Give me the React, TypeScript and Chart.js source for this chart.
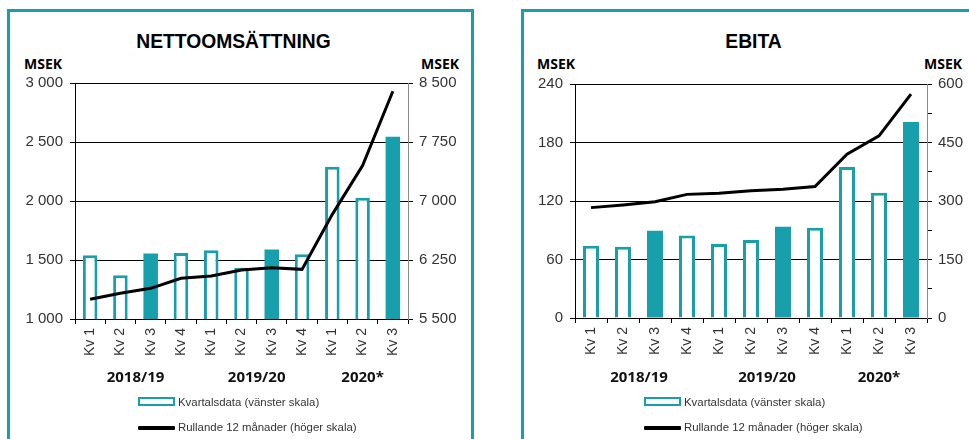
import React, { useEffect, useRef } from 'react';
import { Chart, registerables } from 'chart.js';

Chart.register(...registerables);

// ---- Data ----
const categories = ['Kv 1', 'Kv 2', 'Kv 3', 'Kv 4', 'Kv 1', 'Kv 2', 'Kv 3', 'Kv 4', 'Kv 1', 'Kv 2', 'Kv 3'];
const groups = ['2018/19', '2019/20', '2020*'];
const groupSizes = [4, 4, 3];

const salesQuarter = [1540, 1370, 1555, 1560, 1582, 1435, 1590, 1548, 2290, 2028, 2544];
const salesRolling = [5750, 5827, 5890, 6017, 6047, 6123, 6152, 6131, 6830, 7450, 8395];

const ebitaQuarter = [74, 73, 89.5, 84.5, 76, 80, 93.5, 92.5, 155, 128.5, 201];
const ebitaRolling = [283, 290, 298, 317, 320, 326, 330, 337, 420, 467, 574];

const salesLeftTicks = [1000, 1500, 2000, 2500, 3000];
const salesRightTicks = [5500, 6250, 7000, 7750, 8500];
const ebitaLeftTicks = [0, 60, 120, 180, 240];
const ebitaRightTicks = [0, 150, 300, 450, 600];

const legendBarLabel = 'Kvartalsdata (vänster skala)';
const legendLineLabel = 'Rullande 12 månader (höger skala)';

// ---- Styles ----
const TEAL = '#17A0AC';
const TEXT = '#333333';
const SANS = '"Liberation Sans", Arial, sans-serif';
const BOLD2 = '"Open Sans", "Liberation Sans", Arial, sans-serif';

const fmt = (v: number) => String(v).replace(/\B(?=(\d{3})+(?!\d))/g, ' ');
const isFilled = (i: number) => categories[i] === 'Kv 3';

const groupLabelPlugin = {
  id: 'groupLabels',
  afterDraw(chart: any, _args: any, opts: any) {
    const { ctx } = chart;
    const x = chart.scales.x;
    let start = 0;
    ctx.save();
    ctx.font = 'bold 15px ' + BOLD2;
    ctx.fillStyle = '#111';
    ctx.textAlign = 'center';
    ctx.textBaseline = 'alphabetic';
    (opts.groups as string[]).forEach((g, i) => {
      const n = opts.sizes[i];
      const a = x.getPixelForValue(start);
      const b = x.getPixelForValue(start + n - 1);
      ctx.fillText(g, (a + b) / 2, opts.y);
      start += n;
    });
    ctx.restore();
  },
};

type Cfg = {
  bars: number[];
  line: number[];
  leftTicks: number[];
  rightTicks: number[];
  minorRight: boolean;
  top: number;
  leftW: number;
  rightW: number;
  xH: number;
  barPct: number;
};

function makeConfig(c: Cfg): any {
  const lStep = c.leftTicks[1] - c.leftTicks[0];
  const rStep = c.rightTicks[1] - c.rightTicks[0];
  return {
    data: {
      labels: categories,
      datasets: [
        {
          type: 'line',
          label: legendLineLabel,
          data: c.line,
          yAxisID: 'y2',
          borderColor: '#000',
          borderWidth: 3,
          pointRadius: 0,
          tension: 0,
          fill: false,
          order: 0,
        },
        {
          type: 'bar',
          label: legendBarLabel,
          data: c.bars,
          yAxisID: 'y',
          backgroundColor: (ctx: any) => (isFilled(ctx.dataIndex) ? TEAL : '#ffffff'),
          borderColor: TEAL,
          borderWidth: (ctx: any) => (isFilled(ctx.dataIndex) ? 0 : 3),
          borderSkipped: 'bottom',
          categoryPercentage: 1,
          barPercentage: c.barPct,
          order: 1,
        },
      ],
    },
    options: {
      responsive: false,
      animation: false,
      devicePixelRatio: 1,
      layout: { padding: { top: c.top, left: 0, right: 0, bottom: 0 } },
      plugins: {
        legend: { display: false },
        tooltip: { enabled: false },
        title: { display: false },
        groupLabels: { groups, sizes: groupSizes, y: 381.5 },
      },
      scales: {
        x: {
          type: 'category',
          offset: true,
          grid: { display: true, drawOnChartArea: false, drawTicks: true, tickLength: 5, color: '#000', offset: true },
          border: { display: true, color: '#000', width: 1 },
          ticks: {
            autoSkip: false,
            minRotation: 90,
            maxRotation: 90,
            padding: 4,
            color: TEXT,
            font: { family: SANS, size: 14 },
          },
          afterFit: (s: any) => {
            s.height = c.xH;
          },
        },
        y: {
          position: 'left',
          min: c.leftTicks[0],
          max: c.leftTicks[c.leftTicks.length - 1],
          ticks: {
            stepSize: lStep,
            padding: 7,
            color: TEXT,
            font: { family: SANS, size: 15 },
            callback: (v: any) => fmt(Number(v)),
          },
          grid: { color: '#000', tickLength: 5, drawTicks: true, lineWidth: 1 },
          border: { display: true, color: '#000', width: 1 },
          afterFit: (s: any) => {
            s.width = c.leftW;
          },
        },
        y2: {
          position: 'right',
          min: c.rightTicks[0],
          max: c.rightTicks[c.rightTicks.length - 1],
          ticks: {
            stepSize: c.minorRight ? rStep / 2 : rStep,
            padding: 6,
            color: TEXT,
            font: { family: SANS, size: 15 },
            callback: (v: any) => (c.rightTicks.includes(Number(v)) ? fmt(Number(v)) : ''),
          },
          grid: { drawOnChartArea: false, drawTicks: true, tickLength: 5, color: '#000' },
          border: { display: true, color: '#8a8a8a', width: 1 },
          afterFit: (s: any) => {
            s.width = c.rightW;
          },
        },
      },
    },
    plugins: [groupLabelPlugin],
  };
}

function ChartCanvas({ cfg, left }: { cfg: Cfg; left: number }) {
  const ref = useRef<HTMLCanvasElement | null>(null);
  useEffect(() => {
    if (!ref.current) return;
    const chart = new Chart(ref.current, makeConfig(cfg));
    return () => chart.destroy();
  }, []);
  return (
    <canvas
      ref={ref}
      width={480}
      height={439}
      style={{ position: 'absolute', left, top: 0, width: 480, height: 439 }}
    />
  );
}

function Legend({ left }: { left: number }) {
  const txt: React.CSSProperties = {
    position: 'absolute',
    left: left + 40,
    font: '11.4px ' + SANS,
    lineHeight: '12px',
    color: TEXT,
    whiteSpace: 'nowrap',
  };
  return (
    <>
      <div
        style={{
          position: 'absolute',
          left,
          top: 397,
          width: 37,
          height: 9,
          boxSizing: 'border-box',
          border: '2.5px solid ' + TEAL,
          background: '#fff',
        }}
      />
      <div style={{ ...txt, top: 396 }}>{legendBarLabel}</div>
      <div style={{ position: 'absolute', left, top: 425.5, width: 37, height: 4, background: '#000', borderRadius: 1 }} />
      <div style={{ ...txt, top: 420.5 }}>{legendLineLabel}</div>
    </>
  );
}

const title = (text: string, center: number) => (
  <div
    style={{
      position: 'absolute',
      left: center - 200,
      width: 400,
      top: 32,
      textAlign: 'center',
      font: 'bold 19.3px ' + SANS,
      lineHeight: '19px',
      color: '#000',
    }}
  >
    {text}
  </div>
);

const msek = (left: number) => (
  <div
    style={{
      position: 'absolute',
      left,
      top: 56.5,
      font: 'bold 14px ' + BOLD2,
      lineHeight: '14px',
      color: '#000',
    }}
  >
    MSEK
  </div>
);

export default function App() {
  const salesCfg: Cfg = {
    bars: salesQuarter,
    line: salesRolling,
    leftTicks: salesLeftTicks,
    rightTicks: salesRightTicks,
    minorRight: false,
    top: 83,
    leftW: 75,
    rightW: 72,
    xH: 120,
    barPct: 0.48,
  };
  const ebitaCfg: Cfg = {
    bars: ebitaQuarter,
    line: ebitaRolling,
    leftTicks: ebitaLeftTicks,
    rightTicks: ebitaRightTicks,
    minorRight: true,
    top: 84,
    leftW: 86,
    rightW: 42,
    xH: 121,
    barPct: 0.5,
  };
  return (
    <div
      style={{
        position: 'fixed',
        left: 0,
        top: 0,
        width: 969,
        height: 439,
        overflow: 'hidden',
        background: '#fff',
      }}
    >
      <div
        style={{
          position: 'absolute',
          left: 7,
          top: 9,
          width: 467,
          height: 450,
          boxSizing: 'border-box',
          border: '3px solid ' + TEAL,
        }}
      />
      <div
        style={{
          position: 'absolute',
          left: 521,
          top: 9,
          width: 470,
          height: 450,
          boxSizing: 'border-box',
          border: '3px solid ' + TEAL,
        }}
      />
      {title('NETTOOMSÄTTNING', 233.5)}
      {title('EBITA', 753.5)}
      {msek(24)}
      {msek(421)}
      {msek(537)}
      {msek(924)}
      <ChartCanvas cfg={salesCfg} left={0} />
      <ChartCanvas cfg={ebitaCfg} left={489} />
      <Legend left={138} />
      <Legend left={644} />
    </div>
  );
}
